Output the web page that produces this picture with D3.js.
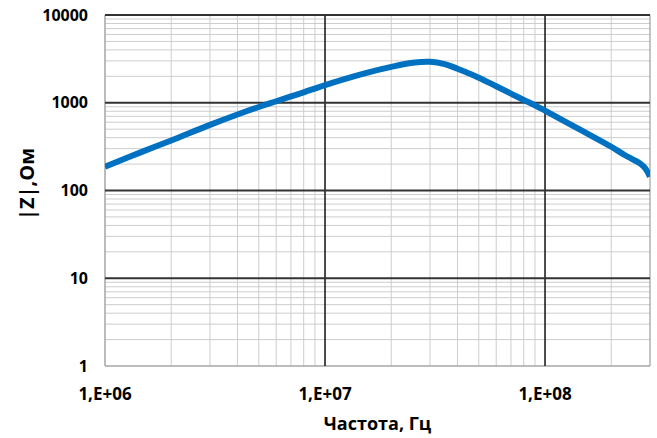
<!DOCTYPE html>
<html>
<head>
<meta charset="utf-8">
<script src="https://cdn.jsdelivr.net/npm/d3@7"></script>
<style>
  body { margin: 0; background: #fff; }
  text { font-family: "Open Sans", "Noto Sans", sans-serif; font-weight: bold; fill: #000; }
</style>
</head>
<body>
<div id="chart"></div>
<script>
// impedance curve
const freq = [1e6, 1.5e6, 2e6, 3e6, 4e6, 5e6, 6e6, 7e6, 8e6, 1e7,
              1.5e7, 2e7, 2.5e7, 3e7, 3.5e7, 4e7, 5e7, 6e7, 7e7, 8e7,
              9e7, 1e8, 1.5e8, 2e8, 2.3e8, 2.5e8, 2.7e8, 2.85e8, 3e8];
const impedance = [187, 281, 372, 560, 735, 895, 1040, 1180, 1315, 1590,
                   2150, 2560, 2850, 2930, 2760, 2440, 1930, 1540, 1270, 1075,
                   935, 812, 468, 315, 254, 227, 204, 180, 144];

const xTicks = [1e6, 1e7, 1e8];
const xTickLabels = ["1,E+06", "1,E+07", "1,E+08"];
const yTicks = [1, 10, 100, 1000, 10000];
const yTickLabels = ["1", "10", "100", "1000", "10000"];
const xTitle = "Частота, Гц";
const yTitle = "|Z|,Ом";

const width = 657, height = 438;
const plot = {left: 105, right: 650, top: 15, bottom: 366};

const svg = d3.select("#chart").append("svg")
    .attr("width", width)
    .attr("height", height);

const x = d3.scaleLog().domain([1e6, 3e8]).range([plot.left, plot.right]);
const y = d3.scaleLog().domain([1, 10000]).range([plot.bottom, plot.top]);

// minor grid values 2..9 in every decade
let xMinor = [];
[1e6, 1e7, 1e8].forEach(d => {
    for (let k = 2; k <= 9; k++) if (d * k < 3e8) xMinor.push(d * k);
});
let yMinor = [];
[1, 10, 100, 1000].forEach(d => {
    for (let k = 2; k <= 9; k++) yMinor.push(d * k);
});

const grid = svg.append("g");

grid.selectAll(".xminor").data(xMinor).enter().append("line")
    .attr("x1", d => x(d)).attr("x2", d => x(d))
    .attr("y1", plot.top).attr("y2", plot.bottom)
    .attr("stroke", "#cdcdcd").attr("stroke-width", 1);

grid.selectAll(".yminor").data(yMinor).enter().append("line")
    .attr("x1", plot.left).attr("x2", plot.right)
    .attr("y1", d => y(d)).attr("y2", d => y(d))
    .attr("stroke", "#cdcdcd").attr("stroke-width", 1);

// axis lines and right border
grid.append("line")
    .attr("x1", plot.left).attr("x2", plot.left)
    .attr("y1", plot.top).attr("y2", plot.bottom)
    .attr("stroke", "#a6a6a6").attr("stroke-width", 1.5);
grid.append("line")
    .attr("x1", plot.left).attr("x2", plot.right)
    .attr("y1", plot.bottom).attr("y2", plot.bottom)
    .attr("stroke", "#a6a6a6").attr("stroke-width", 1.5);
grid.append("line")
    .attr("x1", plot.right).attr("x2", plot.right)
    .attr("y1", plot.top).attr("y2", plot.bottom)
    .attr("stroke", "#8c8c8c").attr("stroke-width", 1);

// major grid
grid.selectAll(".xmajor").data(xTicks.slice(1)).enter().append("line")
    .attr("x1", d => x(d)).attr("x2", d => x(d))
    .attr("y1", plot.top).attr("y2", plot.bottom)
    .attr("stroke", "#111").attr("stroke-width", 1.5);

grid.selectAll(".ymajor").data(yTicks.slice(1)).enter().append("line")
    .attr("x1", plot.left).attr("x2", plot.right)
    .attr("y1", d => y(d)).attr("y2", d => y(d))
    .attr("stroke", "#333").attr("stroke-width", 2);

// curve
svg.append("clipPath").attr("id", "clip")
    .append("rect")
    .attr("x", plot.left).attr("y", plot.top)
    .attr("width", plot.right - plot.left).attr("height", plot.bottom - plot.top);

const line = d3.line()
    .x((d, i) => x(freq[i]))
    .y(d => y(d))
    .curve(d3.curveCatmullRom.alpha(0.5));

svg.append("path")
    .attr("d", line(impedance))
    .attr("clip-path", "url(#clip)")
    .attr("fill", "none")
    .attr("stroke", "#0070c0")
    .attr("stroke-width", 6)
    .attr("stroke-linejoin", "round");

// tick labels
svg.selectAll(".ylab").data(yTicks).enter().append("text")
    .attr("x", 88)
    .attr("y", d => y(d))
    .attr("dy", "0.35em")
    .attr("text-anchor", "end")
    .style("font-size", "16px")
    .text((d, i) => yTickLabels[i]);

svg.selectAll(".xlab").data(xTicks).enter().append("text")
    .attr("x", d => x(d))
    .attr("y", 394)
    .attr("dy", "0.35em")
    .attr("text-anchor", "middle")
    .style("font-size", "17px")
    .text((d, i) => xTickLabels[i]);

// axis titles
svg.append("text")
    .attr("x", (plot.left + plot.right) / 2)
    .attr("y", 430)
    .attr("text-anchor", "middle")
    .style("font-size", "18px")
    .text(xTitle);

svg.append("text")
    .attr("transform", "translate(34,184) rotate(-90)")
    .attr("text-anchor", "middle")
    .style("font-size", "20px")
    .text(yTitle);
</script>
</body>
</html>
